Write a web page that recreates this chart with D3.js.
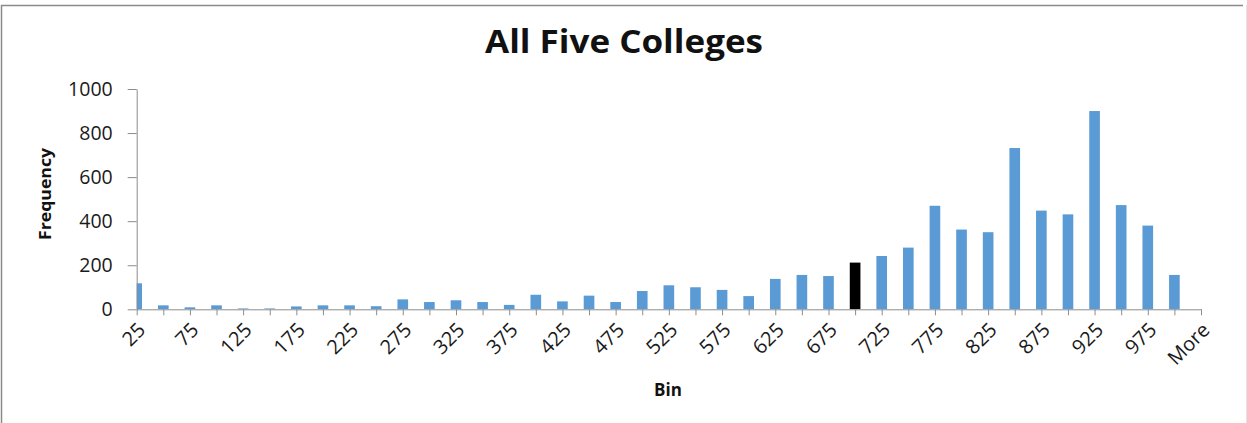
<!DOCTYPE html>
<html>
<head>
<meta charset="utf-8">
<script src="https://cdn.jsdelivr.net/npm/d3@7"></script>
<style>
  html, body { margin: 0; padding: 0; background: #fff; }
  svg { display: block; }
</style>
</head>
<body>
<svg id="chart" width="1247" height="423"></svg>
<script>
// Histogram bins (upper edges) and counts
const bins = ["25","50","75","100","125","150","175","200","225","250",
  "275","300","325","350","375","400","425","450","475","500",
  "525","550","575","600","625","650","675","700","725","750",
  "775","800","825","850","875","900","925","950","975","1000","More"];
const frequency = [118, 18, 9, 18, 4, 4, 13, 18, 18, 14,
  45, 33, 41, 33, 20, 66, 36, 62, 33, 83,
  109, 100, 88, 60, 138, 156, 151, 212, 242, 280,
  470, 362, 350, 732, 448, 431, 900, 473, 380, 156, 0];
const highlightBin = "700";
const yTicks = [0, 200, 400, 600, 800, 1000];
const title = "All Five Colleges";
const xTitle = "Bin";
const yTitle = "Frequency";

const svg = d3.select("#chart");
const W = 1247, H = 423;
const plot = { left: 136.7, right: 1201, top: 89, bottom: 309.3 };
const axisColor = "#8c8c8c";
const fontFamily = "'Open Sans', 'DejaVu Sans', sans-serif";

// outer chart frame
svg.append("path")
  .attr("d", `M1.5,${H} V5.5 H1243`)
  .attr("fill", "none").attr("stroke", "#8a8a8a").attr("stroke-width", 1.5);
svg.append("line")
  .attr("x1", 1246.5).attr("x2", 1246.5).attr("y1", 5).attr("y2", H)
  .attr("stroke", "#e4e4e4");

const x = d3.scalePoint().domain(bins).range([plot.left, plot.right]);
const y = d3.scaleLinear().domain([0, 1000]).range([plot.bottom, plot.top]);
const barW = x.step() * 0.4;

svg.append("defs").append("clipPath").attr("id", "plotClip")
  .append("rect")
  .attr("x", plot.left).attr("y", plot.top - 5)
  .attr("width", plot.right - plot.left).attr("height", plot.bottom - plot.top + 5);

// bars, centred on their category tick
svg.append("g").attr("clip-path", "url(#plotClip)")
  .selectAll("rect")
  .data(bins.map((b, i) => ({ bin: b, value: frequency[i] })))
  .join("rect")
  .attr("x", d => x(d.bin) - barW / 2)
  .attr("y", d => y(d.value))
  .attr("width", barW)
  .attr("height", d => y(0) - y(d.value))
  .attr("fill", d => d.bin === highlightBin ? "#000000" : "#5b9bd5");

// y axis
const yAxis = svg.append("g")
  .attr("transform", `translate(${plot.left},0)`)
  .call(d3.axisLeft(y).tickValues(yTicks).tickFormat(d3.format("d"))
    .tickSize(9).tickPadding(15).tickSizeOuter(0));
yAxis.select(".domain").attr("stroke", axisColor);
yAxis.selectAll(".tick line").attr("stroke", axisColor);
yAxis.selectAll(".tick text")
  .attr("fill", "#1a1a1a")
  .style("font-family", fontFamily)
  .style("font-size", "19.5px");

// x axis
const xAxis = svg.append("g")
  .attr("transform", `translate(0,${plot.bottom})`)
  .call(d3.axisBottom(x).tickSize(6).tickSizeOuter(0).tickFormat(() => ""));
xAxis.select(".domain").attr("stroke", axisColor);
xAxis.selectAll(".tick line").attr("stroke", axisColor);
xAxis.selectAll(".tick text").remove();

// every other bin is labelled, rotated 45 degrees
svg.append("g").selectAll("text")
  .data(bins.filter((b, i) => i % 2 === 0))
  .join("text")
  .attr("transform", d => `translate(${x(d) + 5},${plot.bottom + 17}) rotate(-45)`)
  .attr("text-anchor", "end")
  .attr("dy", "0.35em")
  .attr("fill", "#1a1a1a")
  .style("font-family", fontFamily)
  .style("font-size", "20px")
  .text(d => d);

// titles
svg.append("text")
  .attr("x", 624).attr("y", 53)
  .attr("text-anchor", "middle")
  .style("font-family", fontFamily)
  .style("font-weight", "700")
  .style("font-size", "32px")
  .attr("textLength", 278)
  .attr("lengthAdjust", "spacingAndGlyphs")
  .attr("fill", "#111")
  .text(title);

svg.append("text")
  .attr("x", 668).attr("y", 396)
  .attr("text-anchor", "middle")
  .style("font-family", fontFamily)
  .style("font-weight", "700")
  .style("font-size", "17px")
  .attr("fill", "#111")
  .text(xTitle);

svg.append("text")
  .attr("transform", "translate(51,194) rotate(-90)")
  .attr("text-anchor", "middle")
  .style("font-family", fontFamily)
  .style("font-weight", "700")
  .style("font-size", "16px")
  .attr("textLength", 92)
  .attr("lengthAdjust", "spacingAndGlyphs")
  .attr("fill", "#111")
  .text(yTitle);
</script>
</body>
</html>
